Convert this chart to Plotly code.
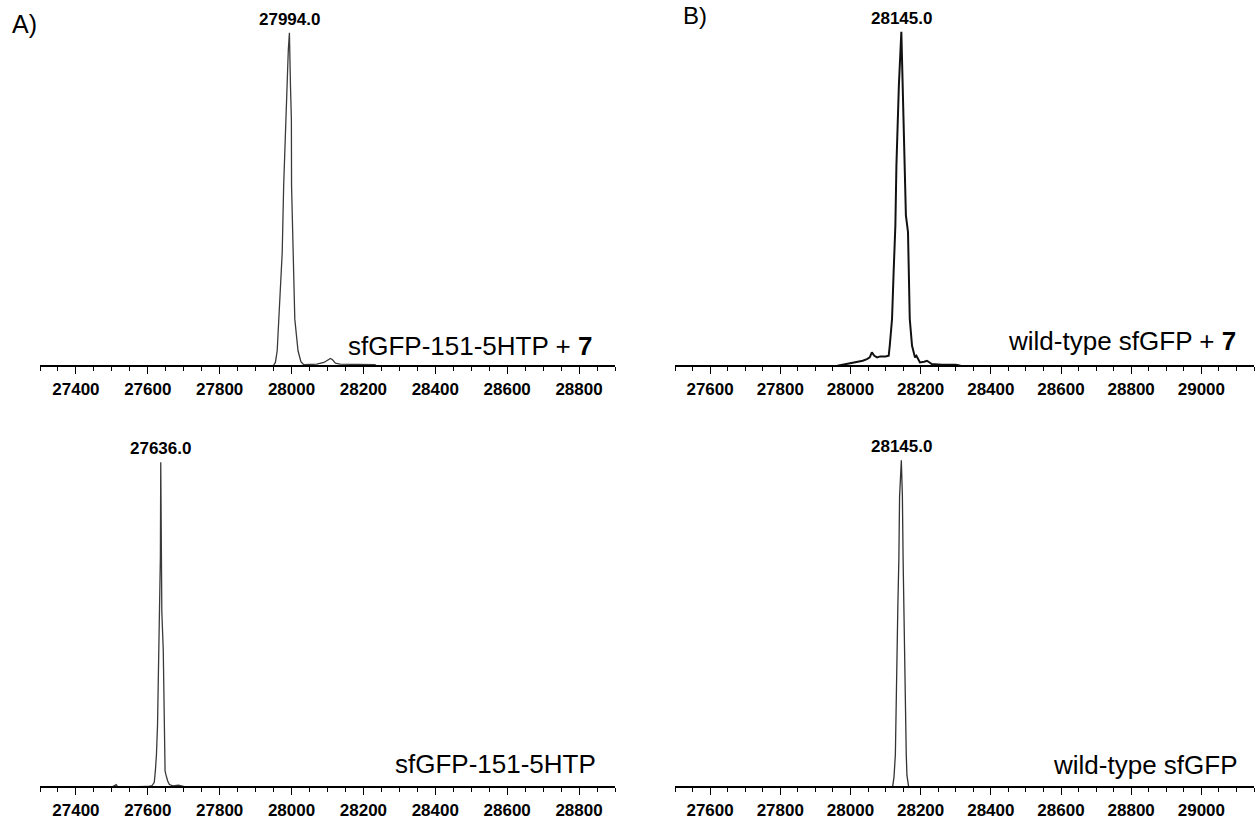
import plotly.graph_objects as go

W, H = 1255, 820

# ---------------- data ----------------
# Panel A top: sfGFP-151-5HTP + 7  (peak 27994.0)
a1_mass = [27949, 27955, 27960, 27964, 27969, 27974, 27978, 27983, 27987.5, 27991, 27994,
           27997, 27999.5, 28000, 28004, 28009, 28018, 28026, 28034, 28050, 28070, 28090,
           28100, 28108, 28114, 28122, 28135, 28160, 28190, 28215, 28232, 28236]
a1_int = [0, 0.01, 0.045, 0.14, 0.24, 0.34, 0.54, 0.74, 0.84, 0.95, 1.0,
          0.84, 0.74, 0.54, 0.34, 0.14, 0.045, 0.012, 0.003, 0.003, 0.005, 0.01,
          0.017, 0.022, 0.018, 0.008, 0.005, 0.004, 0.004, 0.003, 0.003, 0]

# Panel A bottom: sfGFP-151-5HTP  (peak 27636.0)
a2_mass = [27500, 27508, 27512, 27517, 27560, 27600, 27612, 27618, 27621, 27624, 27627,
           27629, 27631, 27632, 27635, 27636, 27637, 27639, 27643, 27644, 27645, 27647,
           27648, 27650, 27652, 27655, 27660, 27670, 27685, 27700, 27708]
a2_int = [0, 0.006, 0.008, 0, 0, 0.002, 0.005, 0.015, 0.05, 0.1, 0.19,
          0.31, 0.42, 0.54, 0.71, 1.0, 0.71, 0.54, 0.42, 0.31, 0.19, 0.1,
          0.05, 0.04, 0.03, 0.02, 0.008, 0.004, 0.006, 0.003, 0]

# Panel B top: wild-type sfGFP + 7  (peak 28145.0)
b1_mass = [27963, 27990, 28018, 28035, 28047, 28055, 28061, 28068, 28076, 28085, 28100,
           28109, 28112, 28118.5, 28123, 28128, 28131, 28138, 28145, 28150, 28153.5,
           28156.5, 28158, 28164, 28166, 28169, 28175.5, 28184, 28188, 28193, 28198,
           28210, 28218, 28232, 28260, 28300, 28314]
b1_int = [0, 0.005, 0.01, 0.015, 0.02, 0.025, 0.04, 0.03, 0.025, 0.028, 0.028,
          0.03, 0.06, 0.14, 0.28, 0.42, 0.6, 0.84, 1.0, 0.78, 0.6,
          0.47, 0.45, 0.4, 0.28, 0.14, 0.06, 0.025, 0.03, 0.022, 0.01,
          0.012, 0.015, 0.005, 0.003, 0.003, 0]

# Panel B bottom: wild-type sfGFP  (peak 28145.0)
b2_mass = [28120, 28124, 28128, 28131, 28135, 28138, 28140, 28145, 28148, 28150, 28153,
           28154, 28159, 28161, 28166]
b2_int = [0, 0.03, 0.1, 0.34, 0.55, 0.7, 0.89, 1.0, 0.89, 0.7, 0.5,
          0.34, 0.1, 0.036, 0]

peak_labels = ["27994.0", "27636.0", "28145.0", "28145.0"]
peak_pos = [27994, 27636, 28145, 28145]
sample_names = ["sfGFP-151-5HTP + <b>7</b>", "sfGFP-151-5HTP",
                "wild-type sfGFP + <b>7</b>", "wild-type sfGFP"]
panel_letters = ["A)", "B)"]

x_ranges = [[27300, 28900], [27300, 28900], [27500, 29150], [27500, 29150]]

# ---------------- layout geometry (pixels) ----------------
panels = [
    # x0, x1, baseline, apex
    (40, 615, 368, 33),
    (40, 615, 792, 465),
    (675, 1254, 368, 32),
    (675, 1254, 792, 463),
]
# right edge and vertical centre of sample-name texts
name_pos = [(594, 348), (598, 769), (1238, 343), (1240, 770)]
line_styles = [("#3a3a3a", 1.3), ("#3a3a3a", 1.3), ("#111111", 2.0), ("#333333", 1.3)]
series = [(a1_mass, a1_int), (a2_mass, a2_int), (b1_mass, b1_int), (b2_mass, b2_int)]

def px(x):
    return x / W

def py(y):
    return 1 - y / H

tick_font = dict(family="Liberation Sans Narrow, Arial Narrow, Liberation Sans, sans-serif",
                 size=17, color="black", weight="bold")
label_font = dict(family="Liberation Sans, Arial, sans-serif", size=26, color="black")

fig = go.Figure()
layout = dict(width=W, height=H, margin=dict(l=0, r=0, t=0, b=0),
              paper_bgcolor="white", plot_bgcolor="white", showlegend=False)
annotations = []

pad = 0.03
for i, ((x0, x1, base, apex), (m, v), (col, lw)) in enumerate(zip(panels, series, line_styles)):
    n = "" if i == 0 else str(i + 1)
    span = base - apex
    ydom = [py(base + pad * span), py(apex - pad * span)]
    layout["xaxis" + n] = dict(
        domain=[px(x0), px(x1)], range=x_ranges[i], anchor="free", position=py(base),
        showgrid=False, zeroline=False, showline=True, linecolor="black", linewidth=1.5,
        ticks="outside", ticklen=7, tickwidth=1.2, tickcolor="black",
        dtick=200, tick0=0, tickformat="d", tickfont=tick_font, ticklabelstandoff=1,
        minor=dict(dtick=50, tick0=0, ticks="outside", ticklen=4, tickwidth=1, tickcolor="black"),
        fixedrange=True,
    )
    layout["yaxis" + n] = dict(domain=ydom, range=[-pad, 1 + pad], visible=False,
                               anchor="x" + n, fixedrange=True)
    fig.add_trace(go.Scatter(x=m, y=v, mode="lines", line=dict(color=col, width=lw),
                             xaxis="x" + n, yaxis="y" + n, hoverinfo="skip"))
    annotations.append(dict(text=peak_labels[i], x=peak_pos[i], y=1, xref="x" + n, yref="y" + n,
                            showarrow=False, yanchor="bottom", yshift=2,
                            font=dict(tick_font, size=17)))
    nx, ny = name_pos[i]
    annotations.append(dict(text=sample_names[i], x=px(nx), xref="paper", y=py(ny), yref="paper",
                            xanchor="right", yanchor="middle", showarrow=False,
                            font=label_font))

annotations.append(dict(text=panel_letters[0], x=px(10), y=py(24), xref="paper", yref="paper",
                        xanchor="left", yanchor="middle", showarrow=False,
                        font=dict(family="Liberation Sans, Arial, sans-serif", size=25, color="black")))
annotations.append(dict(text=panel_letters[1], x=px(681), y=py(16), xref="paper", yref="paper",
                        xanchor="left", yanchor="middle", showarrow=False,
                        font=dict(family="Liberation Sans, Arial, sans-serif", size=24, color="black")))
layout["annotations"] = annotations
fig.update_layout(**layout)
fig.write_html("out.html", config={"displayModeBar": False},
               post_script="document.body.style.margin='0';")
